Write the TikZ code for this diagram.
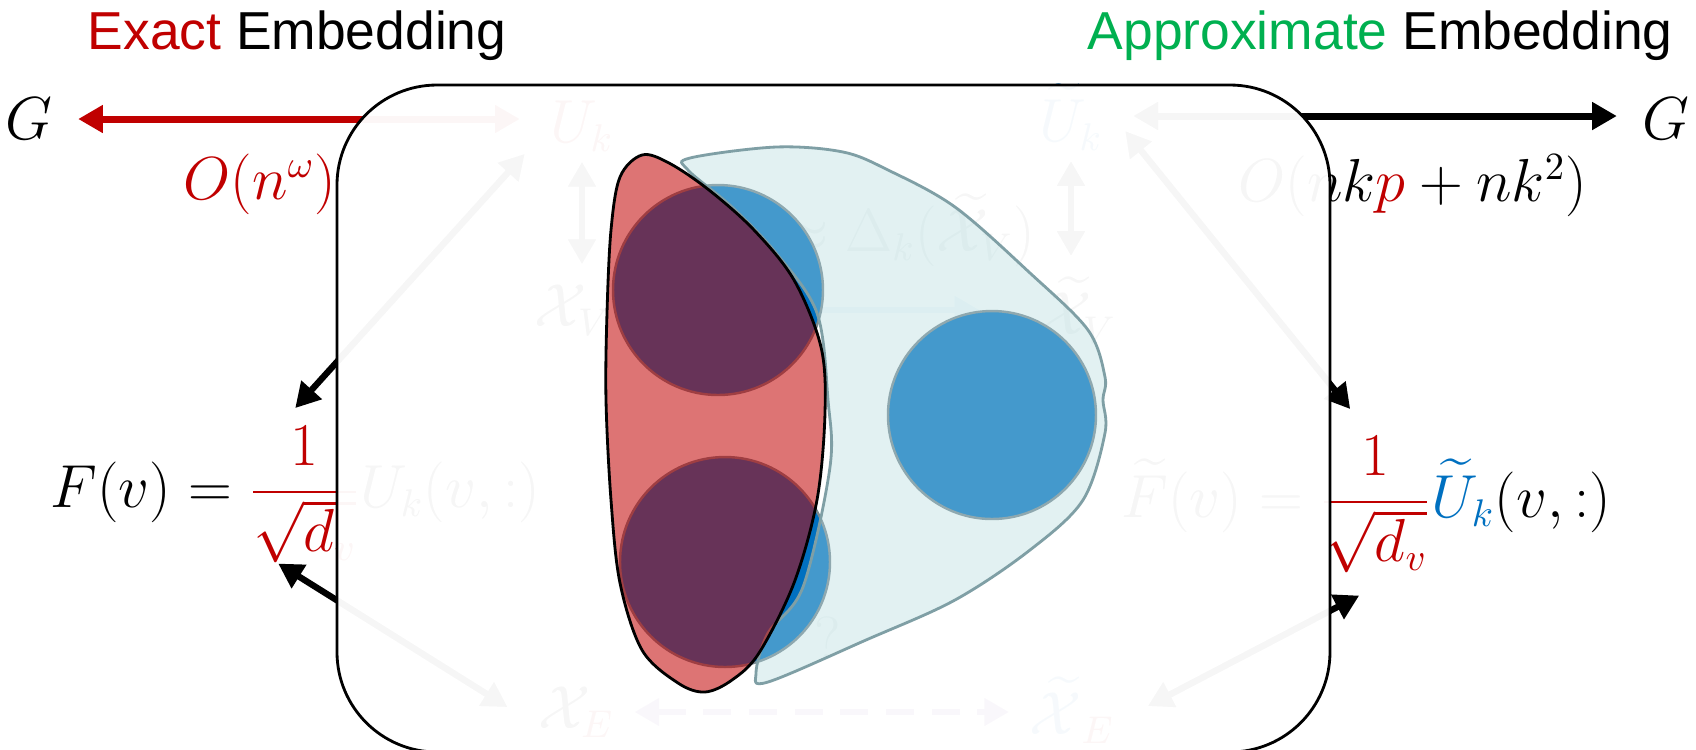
\documentclass[tikz,border=0pt]{standalone}
\usepackage{amsmath}
\usepackage{amssymb}
\usepackage[no-math]{fontspec}
\setmainfont{Liberation Sans}
\usepackage{tikz}
\usetikzlibrary{arrows.meta, positioning, calc}
\usepackage{xcolor}
\definecolor{exactred}{HTML}{C00000}
\definecolor{approxgreen}{HTML}{00B050}
\definecolor{ukblue}{HTML}{0070C0}
\definecolor{discedge}{HTML}{798991}
\definecolor{cloudfill}{HTML}{B3DDE0}
\definecolor{cloudedge}{HTML}{7F9FA5}
\definecolor{edgepurple}{HTML}{7030A0}

\begin{document}
\begin{tikzpicture}[
  % Title texts
  titletext/.style={font=\fontsize{15.2}{18}\selectfont, inner sep=0pt, anchor=base west},
  % Math labels
  mathtext/.style={font=\fontsize{16}{19}\selectfont, inner sep=0pt},
  % Arrow styles
  costflow/.style={line width=2pt, {Triangle[length=7pt,width=7.5pt]}-{Triangle[length=7pt,width=7.5pt]}},
  linkflow/.style={line width=1.8pt, {Triangle[length=7pt,width=7.5pt]}-{Triangle[length=7pt,width=7.5pt]}},
  mapflow/.style={line width=1.8pt, -{Triangle[length=7pt,width=7.5pt]}},
  % Front panel
  panel/.style={draw=black, line width=0.8pt, fill=white, fill opacity=0.965, rounded corners=1cm},
  % Embedding shapes
  bluedisc/.style={draw=discedge, line width=0.7pt, fill=ukblue},
  cloudblob/.style={draw=cloudedge, line width=0.8pt, fill=cloudfill, fill opacity=0.38},
  exactblob/.style={draw=black, line width=0.8pt, fill=exactred, fill opacity=0.54}
]
\useasboundingbox (0,0) rectangle (16.96,-7.49);

% === TITLES ===
\node[titletext] (exact) at (0.87,-0.49) {\textcolor{exactred}{Exact} Embedding};
\node[titletext] (approx) at (10.87,-0.49) {\textcolor{approxgreen}{Approximate} Embedding};

% === GRAPH AND EMBEDDINGS ===
\node[mathtext] (Gl) at (0.29,-1.19) {$G$};
\node[mathtext] (Gr) at (16.66,-1.19) {$G$};
\node[mathtext] (Uk) at (5.82,-1.26) {$\textcolor{exactred}{U_k}$};
\node[mathtext] (Ukt) at (10.71,-1.17) {$\textcolor{ukblue}{\widetilde{U}_k}$};
\node[mathtext] (XV) at (5.73,-3.10) {$\mathcal{X}_V$};
\node[mathtext] (XVt) at (10.78,-3.10) {$\widetilde{\mathcal{X}}_V$};
\node[mathtext] (XE) at (5.76,-7.12) {$\mathcal{X}_{\textcolor{exactred}{E}}$};
\node[mathtext] (XEt) at (10.72,-7.10) {$\textcolor{ukblue}{\widetilde{\mathcal{X}}}_{\textcolor{exactred}{E}}$};

% === FEATURES ===
\node[mathtext, anchor=base west] (Fl) at (0.50,-5.07)
  {$F(v)=\textcolor{exactred}{\dfrac{1}{\sqrt{d_v}}}U_k(v,:)$};
\node[mathtext, anchor=base west] (Fr) at (11.21,-5.17)
  {$\widetilde{F}(v)=\textcolor{exactred}{\dfrac{1}{\sqrt{d_v}}}\textcolor{ukblue}{\widetilde{U}_k}(v,:)$};

% === COSTS ===
\node[mathtext, text=exactred] (costl) at (2.60,-1.84) {$O(n^{\omega})$};
\node[mathtext] (costr) at (14.13,-1.86) {$O(nk\textcolor{exactred}{p}+nk^2)$};
\node[mathtext] (approxeq) at (9.08,-2.30) {$\approx\Delta_k(\widetilde{\mathcal{X}}_V)$};
\node[mathtext] (unknown) at (8.28,-6.38) {$?$};

% === ARROWS ===
\draw[costflow, exactred] ([xshift=2.5mm]Gl.east) -- ([xshift=-3mm]Gl.east -| Uk.west);
\draw[costflow] ([xshift=3mm,yshift=0.3mm]Ukt.east |- Gr.west) -- ([xshift=-2.5mm,yshift=0.3mm]Gr.west);
\draw[linkflow] ([yshift=1.8mm]Fl.north) -- ([xshift=-2.5mm,yshift=-0.2mm]Uk.south west);
\draw[linkflow] ([xshift=-1.7mm]Fl.south) -- ([xshift=-3mm,yshift=0.5mm]XE.west);
\draw[linkflow] ([xshift=2.2mm,yshift=2mm]Ukt.south east) -- ([xshift=-1.6mm,yshift=2.7mm]Fr.north);
\draw[linkflow] ([xshift=-0.7mm,yshift=-2.2mm]Fr.south) -- ([xshift=3.3mm,yshift=0.4mm]XEt.east);
\draw[linkflow, shorten <=1mm, shorten >=2mm] (Uk.south) -- (Uk.south |- XV.north);
\draw[linkflow, shorten <=1mm, shorten >=2mm] (Ukt.south) -- (Ukt.south |- XVt.north);
\draw[mapflow, ukblue, shorten <=2mm, shorten >=6mm] (XV.east) -- (XV.east -| XVt.west);
\draw[linkflow, edgepurple, dashed, dash pattern=on 8pt off 5pt, shorten <=2mm, shorten >=2mm] (XE.east) -- (XE.east -| XEt.west);

% === FRONT PANEL ===
\draw[panel] (3.37,-0.85) rectangle (13.30,-7.52);

% === CLUSTERS ===
\draw[bluedisc] (7.18,-2.90) circle (1.05);
\draw[bluedisc] (7.25,-5.62) circle (1.05);
\draw[bluedisc] (9.92,-4.15) circle (1.04);
\draw[cloudblob] plot[smooth cycle, tension=0.55] coordinates {
  (6.90,-1.58) (7.76,-1.47) (8.43,-1.52) (8.88,-1.70) (9.55,-2.07) (10.30,-2.73)
  (10.88,-3.30) (11.05,-3.77) (11.03,-4.00) (11.05,-4.33) (10.83,-5.00) (10.30,-5.50)
  (9.55,-6.00) (8.66,-6.40) (7.68,-6.82) (7.56,-6.73) (7.68,-6.33) (8.03,-5.87)
  (8.30,-4.67) (8.28,-4.00) (8.17,-3.13) (7.76,-2.53) (7.32,-2.07) (6.88,-1.70)};
\draw[exactblob] plot[smooth cycle, tension=0.55] coordinates {
  (6.42,-1.55) (6.69,-1.63) (7.09,-1.90) (7.54,-2.30) (7.94,-2.80) (8.21,-3.47)
  (8.25,-4.13) (8.17,-5.00) (7.94,-5.83) (7.59,-6.53) (7.32,-6.80) (7.05,-6.92)
  (6.78,-6.83) (6.42,-6.50) (6.20,-5.83) (6.11,-5.00) (6.06,-4.00) (6.07,-3.13)
  (6.11,-2.30) (6.20,-1.77)};

\end{tikzpicture}
\end{document}
